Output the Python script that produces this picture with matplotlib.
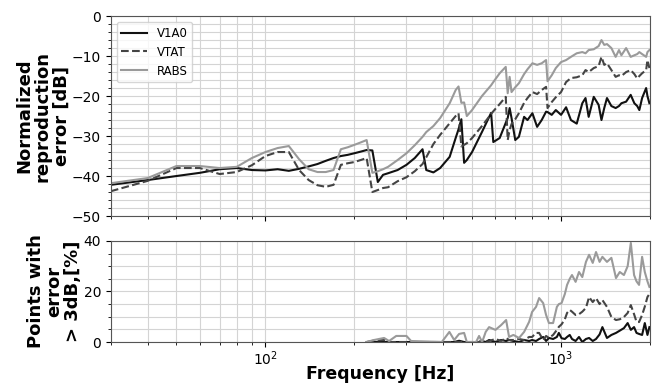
import numpy as np
import matplotlib.pyplot as plt
from matplotlib.ticker import MultipleLocator

# reproduction error vs frequency
freq = [30, 40, 50, 60, 70, 80, 90, 100, 110, 120, 130, 140, 150, 160, 170, 180, 190,
        200, 210, 220, 230, 240, 250, 260, 280, 300, 320, 340, 350, 370, 390, 420, 440,
        450, 460, 470, 480, 500, 540, 580, 590, 620, 650, 660, 670, 680, 700, 720, 750,
        770, 800, 830, 860, 890, 900, 930, 960, 1000, 1040, 1080, 1130, 1180, 1210, 1240,
        1290, 1340, 1370, 1400, 1430, 1480, 1530, 1570, 1600, 1660, 1720, 1770, 1810,
        1840, 1880, 1940, 1960, 1990]

err_v1a0 = [-42.2, -41, -40, -39.2, -38.3, -38, -38.5, -38.6, -38.3, -38.7, -38.2, -37.6,
            -37, -36.2, -35.5, -35, -34.7, -34.3, -33.9, -33.5, -33.6, -41.5, -39.7, -39.3,
            -38.5, -37.2, -35.5, -33.3, -38.5, -39.1, -38, -35.2, -30.5, -28.3, -25.8,
            -36.7, -36, -34, -29, -24.2, -31.5, -30.5, -26.7, -25.5, -23, -25.5, -31,
            -30.2, -25.2, -26, -24.3, -27.7, -26, -23.9, -24, -24.7, -23.5, -24.7, -22.8,
            -26, -26.9, -21.8, -20.5, -25.2, -20.2, -22.2, -26, -23, -20.5, -22.5, -23,
            -22.5, -21.8, -21.4, -19.7, -21.8, -22.5, -23.5, -20.5, -18, -20, -21.8]

err_vtat = [-43.8, -41.2, -38, -38, -39.5, -39, -37.3, -35, -34, -34, -38.5, -41, -42.3,
            -42.7, -42.2, -37.2, -36.8, -36.5, -36, -35.5, -44, -43.5, -43, -42.8, -41.3,
            -40.3, -38.8, -37, -35.3, -32, -29.7, -26.8, -25, -24.3, -32.6, -32.2, -31.8,
            -30.5, -27.5, -24.5, -23.8, -22, -20.2, -31, -28.5, -27, -25.8, -24.3, -21.7,
            -20.5, -19, -19.5, -18.5, -17.7, -23, -21.5, -20.3, -19, -16.5, -15.5, -15.3,
            -14.8, -13.5, -14, -13, -12.5, -10.2, -12.2, -11.8, -13.5, -15.2, -14.8, -15,
            -14, -13.5, -14.5, -15.6, -15, -14.3, -13.5, -11, -13]

err_rabs = [-41.8, -40.5, -37.5, -37.5, -38, -37.7, -35.5, -34, -33, -32.5, -35.8, -38.3,
            -39, -39, -38.5, -33.3, -32.8, -32.2, -31.6, -31, -39.2, -38.8, -38.3, -37.7,
            -36, -34.3, -32.3, -30.2, -29, -27.5, -25.5, -21.8, -18.5, -17.6, -21.7, -21.6,
            -25, -23.5, -20, -17.3, -16.5, -14.3, -12.7, -19.3, -15.2, -19, -17.8, -16.8,
            -14.5, -13.3, -11.8, -12.2, -11.8, -11, -16.3, -14.8, -13, -11.5, -11, -10.2,
            -9.3, -9, -9.3, -8.5, -8.3, -7.5, -6, -7.2, -7, -8, -10.2, -8.5, -9.8, -8,
            -10.2, -9.8, -9.5, -9, -9.5, -10.2, -9, -8.5]

# share of points with error above 3 dB
freq_pts = [220, 233, 252, 262, 277, 300, 311, 395, 419, 435, 452, 470, 480, 516, 528, 541,
            556, 571, 600, 627, 652, 667, 690, 721, 750, 780, 798, 823, 843, 870, 890, 910,
            940, 968, 983, 1004, 1030, 1048, 1070, 1089, 1120, 1150, 1180, 1214, 1244, 1280,
            1313, 1350, 1380, 1430, 1480, 1534, 1580, 1632, 1680, 1722, 1766, 1800, 1836,
            1880, 1920, 1960, 1990]

pts_v1a0 = [0, 0, 0, 0, 0, 0, 0, 0, 0, 0, 0.5, 0, 0, 0, 0, 0.4, 0, 0.8, 0, 0.8, 0.4, 0.8,
            0.4, 0, 0.8, 0.4, 0.8, 0.4, 1.2, 2, 0.4, 1.6, 1.2, 2, 3.6, 1.5, 1.2, 2, 2.8,
            1.2, 0.4, 2, 0, 1.2, 1.6, 0.4, 1.2, 3, 5.9, 1.6, 2.8, 3.6, 4.5, 5.5, 7.5, 4.8,
            5.9, 3.6, 3.2, 2.8, 7.5, 2.8, 5.9]

pts_vtat = [0, 0.6, 0.8, 0, 0, 0, 0, 0, 0, 0, 0, 0, 0, 0, 0, 0.8, 0, 0.4, 1.2, 0.4, 1.6,
            0.8, 0.8, 1.2, 0.8, 2, 2, 3.6, 3.6, 0.8, 2.4, 1.6, 2.8, 4.8, 6, 7, 9, 11.5,
            12.7, 12, 10.7, 11, 12, 13.5, 17.8, 15.8, 17.4, 15, 16.6, 13.9, 9.9, 8.7, 9,
            9.9, 11.5, 14.6, 11, 8, 7.9, 10.7, 14, 17.8, 19]

pts_rabs = [0, 0.8, 1.6, 0.4, 2.4, 2.4, 0.4, 0, 4, 0.8, 3.2, 3.6, 0, 0, 2.4, 0, 4, 5.9,
            4.8, 6.7, 8.7, 2, 2.8, 1.6, 4, 8, 11.9, 13.9, 17.4, 15.4, 10.7, 7.5, 7.5, 13.9,
            15, 15.4, 19, 22.6, 25, 26.5, 23.8, 27.7, 25.7, 31.7, 34.5, 31.3, 35.6, 31.7,
            33.7, 31.7, 33.3, 25.3, 27.7, 26.5, 30, 39.2, 26.5, 24, 22.6, 33.7, 27.7, 24,
            21.8]

fig = plt.figure(figsize=(6.52, 3.83), dpi=100)
ax1 = fig.add_axes([0.170, 0.436, 0.827, 0.522])
ax2 = fig.add_axes([0.170, 0.107, 0.827, 0.264], sharex=ax1)

styles = [('V1A0', '#111111', '-'), ('VTAT', '#444444', '--'), ('RABS', '#9a9a9a', '-')]

for (name, col, ls), y in zip(styles, [err_v1a0, err_vtat, err_rabs]):
    ax1.plot(freq, y, color=col, linestyle=ls, lw=1.5, label=name)
for (name, col, ls), y in zip(styles, [pts_v1a0, pts_vtat, pts_rabs]):
    ax2.plot(freq_pts, y, color=col, linestyle=ls, lw=1.5)

ax1.set_xscale('log')
ax1.set_xlim(30, 2000)
ax1.set_ylim(-50, 0)
ax1.yaxis.set_major_locator(MultipleLocator(10))
ax1.yaxis.set_minor_locator(MultipleLocator(2))
ax2.set_ylim(0, 40)
ax2.yaxis.set_major_locator(MultipleLocator(20))
ax2.yaxis.set_minor_locator(MultipleLocator(5))

for ax in (ax1, ax2):
    ax.grid(True, which='both', color='#d4d4d4', lw=0.8)
    ax.set_axisbelow(True)
    ax.tick_params(labelsize=10)
    for s in ax.spines.values():
        s.set_color('#555555')
ax1.tick_params(labelbottom=False)
ax2.tick_params(axis='x', pad=2)

ax1.set_ylabel('Normalized\nreproduction\nerror [dB]', fontsize=13, fontweight='bold',
               labelpad=1, linespacing=1.05)
ax2.set_ylabel('Points with\nerror\n> 3dB,[%]', fontsize=13, fontweight='bold',
               labelpad=1, linespacing=1.05)
ax2.set_xlabel('Frequency [Hz]', fontsize=12.5, fontweight='bold', labelpad=-2)

ax1.legend(loc='upper left', fontsize=8.5, handlelength=2.2)

fig.savefig('out.png', dpi=100)
